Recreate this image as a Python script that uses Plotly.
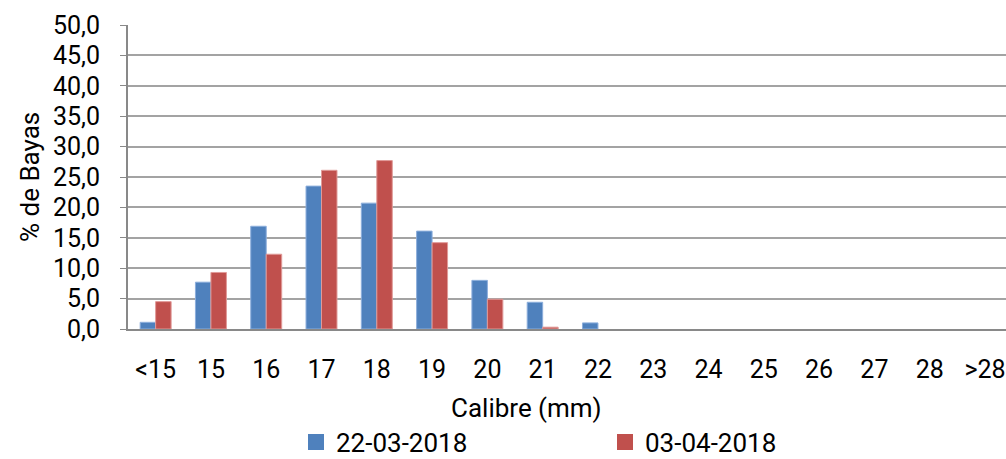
import plotly.graph_objects as go

categories = ["<15", "15", "16", "17", "18", "19", "20", "21", "22",
              "23", "24", "25", "26", "27", "28", ">28"]
serie_2203 = [1.1, 7.7, 16.9, 23.5, 20.7, 16.1, 8.0, 4.4, 1.0,
              0, 0, 0, 0, 0, 0, 0]
serie_0304 = [4.5, 9.3, 12.3, 26.1, 27.7, 14.2, 4.9, 0.3, 0,
              0, 0, 0, 0, 0, 0, 0]
name_a = "22-03-2018"
name_b = "03-04-2018"
y_ticks = [0, 5, 10, 15, 20, 25, 30, 35, 40, 45, 50]

FONT = "Roboto"
W, H = 1006, 459
L, T, B = 128, 25, 129.5
BLUE, RED = "#4F81BD", "#C0504D"


def outline_widths(vals):
    return [1 if v > 0 else 0 for v in vals]


fig = go.Figure()
fig.add_trace(go.Bar(x=categories, y=serie_2203, name=name_a, showlegend=False,
                     marker=dict(color=BLUE, line=dict(color="#8CAEDC",
                                                        width=outline_widths(serie_2203)))))
fig.add_trace(go.Bar(x=categories, y=serie_0304, name=name_b, showlegend=False,
                     marker=dict(color=RED, line=dict(color="#E09A98",
                                                       width=outline_widths(serie_0304)))))
# legend-only entries with square swatches
for nm, col in [(name_a, BLUE), (name_b, RED)]:
    fig.add_trace(go.Scatter(x=[None], y=[None], mode="markers", name=nm,
                             marker=dict(symbol="square", size=16, color=col),
                             showlegend=True, hoverinfo="skip"))

fig.update_layout(
    width=W, height=H,
    margin=dict(l=L, r=0, t=T, b=B, pad=0, autoexpand=False),
    paper_bgcolor="white", plot_bgcolor="white",
    font=dict(family=FONT, size=25, color="#000000"),
    separators=",.",
    barmode="group", bargap=0.44, bargroupgap=0,
    showlegend=True,
    legend=dict(orientation="h", xref="container", x=296 / W, xanchor="left",
                yref="container", y=1 - 442 / H, yanchor="middle",
                entrywidth=264, entrywidthmode="pixels",
                font=dict(family=FONT, size=26), itemwidth=30,
                tracegroupgap=0, bgcolor="rgba(0,0,0,0)", borderwidth=0),
)

fig.update_xaxes(
    type="category", range=[-0.5, 15.38], automargin=False,
    showline=True, linecolor="#898989", linewidth=2,
    ticks="", showgrid=False,
    tickfont=dict(family=FONT, size=25),
    ticklabelstandoff=17,
)
fig.update_yaxes(
    range=[0, 50], tickvals=y_ticks, tickformat=".1f", automargin=False,
    showline=True, linecolor="#898989", linewidth=2,
    ticks="outside", ticklen=6, tickcolor="#898989", tickwidth=1,
    showgrid=True, gridcolor="#A3A3A3", gridwidth=1.5,
    zeroline=False,
    tickfont=dict(family=FONT, size=25),
    ticklabelstandoff=15,
)

fig.add_annotation(text="% de Bayas", xref="paper", yref="paper",
                   x=-(L - 30) / (W - L), y=0.5, textangle=-90,
                   showarrow=False, font=dict(family=FONT, size=26),
                   xanchor="center", yanchor="middle")
fig.add_annotation(text="Calibre (mm)", xref="paper", yref="paper",
                   x=(526 - L) / (W - L), y=-(409 - (H - B)) / (H - T - B),
                   showarrow=False, font=dict(family=FONT, size=26),
                   xanchor="center", yanchor="middle")

fig.write_html("out.html",
               config={"displayModeBar": False},
               post_script="document.body.style.margin='0';document.body.style.overflow='hidden';")
